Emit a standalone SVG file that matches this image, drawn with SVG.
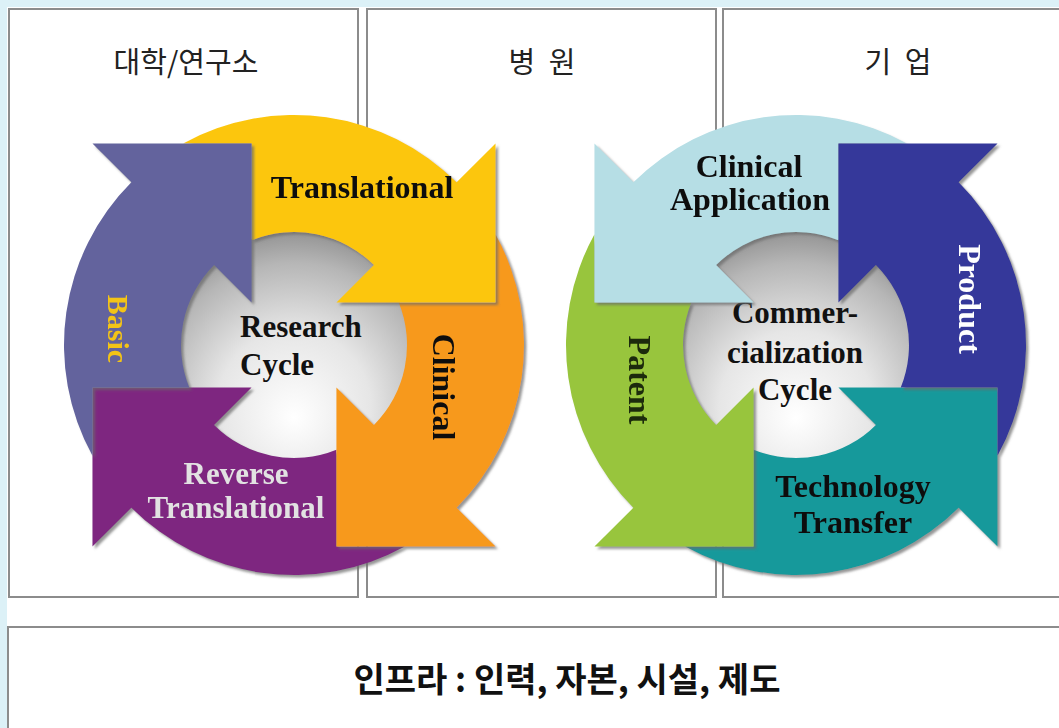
<svg xmlns="http://www.w3.org/2000/svg" width="1059" height="728" viewBox="0 0 1059 728">
<defs>
<style>
.box{fill:#ffffff;stroke:#8c8c8c;stroke-width:2}
.hd{font-family:"Noto Sans CJK KR","Noto Sans",sans-serif;font-size:29px;fill:#222;text-anchor:middle}
.ft{font-family:"Noto Sans CJK KR","Noto Sans",sans-serif;font-size:34px;font-weight:bold;fill:#111;text-anchor:middle}
.lb{font-family:"Liberation Serif","Times New Roman",serif;font-weight:bold;font-size:32px;fill:#111;text-anchor:middle}
.lt{fill:#e2e2e2;font-size:31px}
.yl{fill:#f4c417;font-size:30px}
.wh{fill:#ffffff}
.dk{fill:#1b2a08}
.hub{font-family:"Liberation Serif","Times New Roman",serif;font-weight:bold;font-size:31px;fill:#111}
.arr{filter:url(#sh)}
</style>
<filter id="sh" x="-5%" y="-5%" width="115%" height="115%">
<feDropShadow dx="2.5" dy="2.5" stdDeviation="1" flood-color="#6a6a6a" flood-opacity="0.7"/>
</filter>
<radialGradient id="hubg" cx="0.5" cy="0.72" r="0.75" fx="0.5" fy="0.82">
<stop offset="0" stop-color="#ffffff"/>
<stop offset="0.45" stop-color="#e6e6e6"/>
<stop offset="0.8" stop-color="#b6b6b6"/>
<stop offset="1" stop-color="#8c8c8c"/>
</radialGradient>
</defs>

<rect x="0" y="0" width="1059" height="728" fill="#dcf1f7"/>
<rect x="7" y="7" width="1052" height="721" fill="#ffffff"/>

<g id="panels">
<rect class="box" x="9" y="9" width="349" height="588"/>
<rect class="box" x="367" y="9" width="349" height="588"/>
<rect class="box" x="723" y="9" width="345" height="588"/>
<rect class="box" x="8" y="627" width="1060" height="110"/>
<text class="hd" x="186" y="73">대학/연구소</text>
<text class="hd" x="542" y="73" word-spacing="7">병 원</text>
<text class="hd" x="898" y="73" word-spacing="7">기 업</text>
<text class="ft" x="567" y="692">인프라 : 인력, 자본, 시설, 제도</text>
</g>

<!-- Research cycle -->
<g id="research-cycle">
<circle cx="294" cy="345" r="114" fill="url(#hubg)"/>
<text class="hub" x="240" y="337">Research</text>
<text class="hub" x="240" y="375">Cycle</text>
</g>

<g id="reverse-translational" class="arr">
<path fill="#7e2880" d="M 404.85,546.53 A 230 230 0 0 1 131.37,507.63 L 92.47,546.53 L 92.47,387.43 L 251.57,387.43 L 214.10,424.90 A 113 113 0 0 0 336.42,449.74 L 336.43,546.53 Z"/>
<text class="lb lt" x="236" y="484">Reverse</text>
<text class="lb lt" x="236" y="518">Translational</text>
</g>

<g id="clinical" class="arr">
<path fill="#f7991f" d="M 495.53,234.15 A 230 230 0 0 1 456.63,507.63 L 495.53,546.53 L 336.43,546.53 L 336.43,387.43 L 373.90,424.90 A 113 113 0 0 0 398.74,302.58 L 495.53,302.57 Z"/>
<text class="lb" transform="translate(433,387) rotate(90)">Clinical</text>
</g>

<g id="translational" class="arr">
<path fill="#fcc60f" d="M 183.15,143.47 A 230 230 0 0 1 456.63,182.37 L 495.53,143.47 L 495.53,302.57 L 336.43,302.57 L 373.90,265.10 A 113 113 0 0 0 251.58,240.26 L 251.57,143.47 Z"/>
<text class="lb" x="362" y="198">Translational</text>
</g>

<g id="basic" class="arr">
<path fill="#63649d" d="M 92.47,455.85 A 230 230 0 0 1 131.37,182.37 L 92.47,143.47 L 251.57,143.47 L 251.57,302.57 L 214.10,265.10 A 113 113 0 0 0 189.26,387.42 L 92.47,387.43 Z"/>
<text class="lb yl" transform="translate(108,329) rotate(90)">Basic</text>
</g>

<!-- Commercialization cycle -->
<g id="commercialization-cycle">
<circle cx="796" cy="345" r="114" fill="url(#hubg)"/>
<text class="hub" x="795" y="323" text-anchor="middle">Commer-</text>
<text class="hub" x="795" y="363" text-anchor="middle">cialization</text>
<text class="hub" x="795" y="400" text-anchor="middle">Cycle</text>
</g>

<g id="technology-transfer" class="arr">
<path fill="#17999b" d="M 685.15,546.53 A 230 230 0 0 0 958.63,507.63 L 997.53,546.53 L 997.53,387.43 L 838.43,387.43 L 875.90,424.90 A 113 113 0 0 1 753.58,449.74 L 753.57,546.53 Z"/>
<text class="lb" x="853" y="497">Technology</text>
<text class="lb" x="853" y="533">Transfer</text>
</g>

<g id="patent" class="arr">
<path fill="#98c53d" d="M 594.47,234.15 A 230 230 0 0 0 633.37,507.63 L 594.47,546.53 L 753.57,546.53 L 753.57,387.43 L 716.10,424.90 A 113 113 0 0 1 691.26,302.58 L 594.47,302.57 Z"/>
<text class="lb dk" transform="translate(629,380) rotate(90)">Patent</text>
</g>

<g id="clinical-application" class="arr">
<path fill="#b6dee5" d="M 906.85,143.47 A 230 230 0 0 0 633.37,182.37 L 594.47,143.47 L 594.47,302.57 L 753.57,302.57 L 716.10,265.10 A 113 113 0 0 1 838.42,240.26 L 838.43,143.47 Z"/>
<text class="lb" x="749" y="177">Clinical</text>
<text class="lb" x="750" y="210">Application</text>
</g>

<g id="product" class="arr">
<path fill="#34389a" d="M 997.53,455.85 A 230 230 0 0 0 958.63,182.37 L 997.53,143.47 L 838.43,143.47 L 838.43,302.57 L 875.90,265.10 A 113 113 0 0 1 900.74,387.42 L 997.53,387.43 Z"/>
<text class="lb wh" transform="translate(959,299) rotate(90)">Product</text>
</g>

<g id="connectors"/>
</svg>
